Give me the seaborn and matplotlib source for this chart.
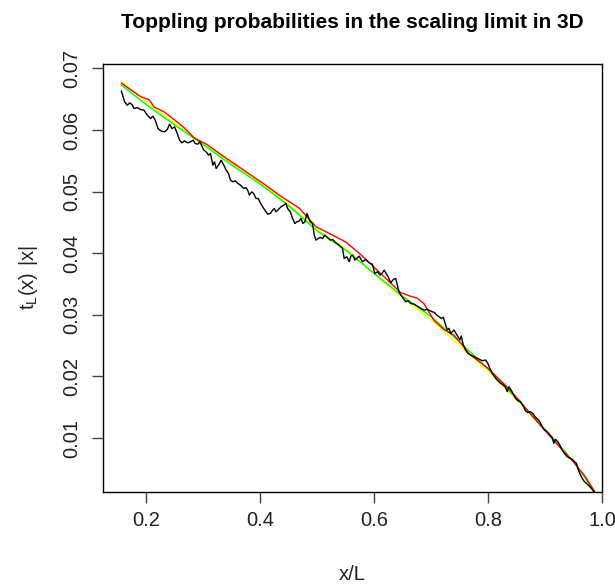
import numpy as np
import pandas as pd
import matplotlib
matplotlib.use("Agg")
import matplotlib.pyplot as plt
import seaborn as sns

# simulated toppling probabilities (noisy, black)
sim_x = [0.1562, 0.1620, 0.1667, 0.1708, 0.1749, 0.1784, 0.1842, 0.1900, 0.1959, 0.2017,
         0.2076, 0.2117, 0.2157, 0.2204, 0.2263, 0.2321, 0.2368, 0.2409, 0.2450, 0.2496,
         0.2543, 0.2584, 0.2624, 0.2671, 0.2729, 0.2776, 0.2823, 0.2858, 0.2905, 0.2940,
         0.2975, 0.3010, 0.3051, 0.3092, 0.3127, 0.3168, 0.3197, 0.3226, 0.3267, 0.3314,
         0.3360, 0.3401, 0.3442, 0.3477, 0.3518, 0.3559, 0.3606, 0.3653, 0.3710, 0.3750,
         0.3780, 0.3809, 0.3850, 0.3885, 0.3926, 0.3966, 0.4001, 0.4042, 0.4083, 0.4130,
         0.4177, 0.4218, 0.4247, 0.4276, 0.4317, 0.4364, 0.4410, 0.4451, 0.4480, 0.4527,
         0.4568, 0.4609, 0.4644, 0.4685, 0.4714, 0.4749, 0.4784, 0.4819, 0.4843, 0.4878,
         0.4918, 0.4948, 0.4977, 0.5018, 0.5053, 0.5094, 0.5134, 0.5181, 0.5228, 0.5269,
         0.5327, 0.5386, 0.5444, 0.5473, 0.5520, 0.5561, 0.5590, 0.5625, 0.5660, 0.5695,
         0.5736, 0.5794, 0.5852, 0.5911, 0.5969, 0.6010, 0.6057, 0.6104, 0.6144, 0.6174,
         0.6209, 0.6244, 0.6290, 0.6337, 0.6378, 0.6407, 0.6436, 0.6466, 0.6512, 0.6553,
         0.6594, 0.6641, 0.6699, 0.6758, 0.6816, 0.6874, 0.6933, 0.6980, 0.7020, 0.7061,
         0.7096, 0.7137, 0.7178, 0.7213, 0.7254, 0.7283, 0.7312, 0.7342, 0.7371, 0.7400,
         0.7435, 0.7470, 0.7505, 0.7528, 0.7564, 0.7604, 0.7645, 0.7692, 0.7750, 0.7808,
         0.7896, 0.7954, 0.7995, 0.8030, 0.8071, 0.8112, 0.8159, 0.8206, 0.8264, 0.8305,
         0.8334, 0.8363, 0.8404, 0.8439, 0.8480, 0.8521, 0.8568, 0.8614, 0.8655, 0.8696,
         0.8743, 0.8790, 0.8830, 0.8871, 0.8906, 0.8947, 0.8988, 0.9035, 0.9082, 0.9122,
         0.9152, 0.9181, 0.9222, 0.9257, 0.9298, 0.9338, 0.9385, 0.9432, 0.9473, 0.9514,
         0.9549, 0.9572, 0.9607, 0.9648, 0.9689, 0.9736, 0.9782, 0.9823, 0.9864]
sim_y = [0.06633, 0.06455, 0.06401, 0.06439, 0.06412, 0.06347, 0.06363, 0.06331, 0.06320, 0.06239,
         0.06185, 0.06223, 0.06158, 0.06023, 0.05980, 0.05969, 0.06007, 0.06093, 0.06023, 0.06050,
         0.05942, 0.05834, 0.05791, 0.05823, 0.05791, 0.05807, 0.05834, 0.05780, 0.05769, 0.05807,
         0.05737, 0.05672, 0.05645, 0.05591, 0.05618, 0.05429, 0.05483, 0.05375, 0.05429, 0.05510,
         0.05429, 0.05348, 0.05294, 0.05186, 0.05159, 0.05175, 0.05132, 0.05105, 0.05049, 0.05065,
         0.05022, 0.04941, 0.04995, 0.04968, 0.04887, 0.04887, 0.04817, 0.04752, 0.04698, 0.04633,
         0.04644, 0.04698, 0.04725, 0.04671, 0.04709, 0.04752, 0.04779, 0.04806, 0.04725, 0.04671,
         0.04563, 0.04482, 0.04509, 0.04525, 0.04563, 0.04482, 0.04509, 0.04644, 0.04590, 0.04509,
         0.04482, 0.04293, 0.04212, 0.04239, 0.04255, 0.04239, 0.04293, 0.04255, 0.04212, 0.04223,
         0.04169, 0.04131, 0.04077, 0.03915, 0.03942, 0.03861, 0.03953, 0.03969, 0.03888, 0.03915,
         0.03953, 0.03860, 0.03898, 0.03844, 0.03822, 0.03671, 0.03698, 0.03644, 0.03682, 0.03725,
         0.03671, 0.03617, 0.03520, 0.03574, 0.03590, 0.03482, 0.03374, 0.03320, 0.03266, 0.03212,
         0.03228, 0.03185, 0.03174, 0.03142, 0.03104, 0.03077, 0.03088, 0.03066, 0.03050, 0.03034,
         0.02996, 0.02969, 0.02942, 0.02958, 0.02834, 0.02753, 0.02780, 0.02699, 0.02726, 0.02753,
         0.02699, 0.02645, 0.02591, 0.02656, 0.02510, 0.02429, 0.02375, 0.02348, 0.02321, 0.02294,
         0.02255, 0.02266, 0.02212, 0.02131, 0.02050, 0.01996, 0.01942, 0.01899, 0.01861, 0.01823,
         0.01753, 0.01834, 0.01780, 0.01715, 0.01645, 0.01607, 0.01591, 0.01521, 0.01445, 0.01413,
         0.01429, 0.01391, 0.01337, 0.01305, 0.01267, 0.01186, 0.01132, 0.01105, 0.01051, 0.01013,
         0.00916, 0.00981, 0.00943, 0.00889, 0.00808, 0.00754, 0.00700, 0.00673, 0.00657, 0.00619,
         0.00592, 0.00511, 0.00430, 0.00349, 0.00295, 0.00257, 0.00214, 0.00171, 0.00117]

# smooth limit curves
lim_x = [0.156, 0.2, 0.25, 0.3, 0.35, 0.4, 0.45, 0.5, 0.55, 0.6,
         0.65, 0.7, 0.75, 0.8, 0.85, 0.9, 0.95, 0.987]
green_y = [0.0673, 0.0641, 0.0608, 0.0576, 0.0543, 0.0512, 0.0477, 0.0436, 0.0405, 0.0367,
           0.0330, 0.0297, 0.0256, 0.0212, 0.0164, 0.0114, 0.0062, 0.0013]
yellow_y = [0.0679, 0.0645, 0.0611, 0.0578, 0.0545, 0.0514, 0.0479, 0.0438, 0.0407, 0.0366,
            0.0327, 0.0292, 0.0250, 0.0208, 0.0162, 0.0113, 0.0062, 0.0013]

red_x = [0.156, 0.190, 0.205, 0.214, 0.230, 0.250, 0.267, 0.284, 0.307, 0.331,
         0.350, 0.380, 0.410, 0.4335, 0.4685, 0.4977, 0.5211, 0.5503, 0.5736, 0.608,
         0.617, 0.6465, 0.664, 0.6757, 0.6874, 0.7049, 0.7224, 0.7399, 0.7574, 0.7662,
         0.80, 0.83, 0.85, 0.88, 0.90, 0.93, 0.95, 0.97, 0.987]
red_y = [0.0676, 0.0654, 0.0649, 0.0637, 0.0630, 0.0616, 0.0603, 0.0587, 0.0576, 0.0560,
         0.0548, 0.0529, 0.0510, 0.0494, 0.0473, 0.0443, 0.0432, 0.0418, 0.0400, 0.0370,
         0.0362, 0.0336, 0.0330, 0.0327, 0.0318, 0.0291, 0.0276, 0.0267, 0.0248, 0.0237,
         0.0213, 0.0186, 0.0166, 0.0133, 0.0112, 0.0081, 0.0061, 0.0038, 0.0013]

sns.set_style("ticks")
plt.rcParams['font.family'] = ['Liberation Sans', 'DejaVu Sans']

fig = plt.figure(figsize=(6.15, 5.85), dpi=100)
ax = fig.add_axes([0.1675, 0.159, 0.8115, 0.7316])

lw = 1.0
sns.lineplot(x=lim_x, y=yellow_y, color='yellow', lw=lw, sort=False, estimator=None, ax=ax)
sns.lineplot(x=lim_x, y=green_y, color='#00ff00', lw=lw, sort=False, estimator=None, ax=ax)
sns.lineplot(x=red_x, y=red_y, color='red', lw=lw, sort=False, estimator=None, ax=ax)
sns.lineplot(x=sim_x, y=sim_y, color='black', lw=lw, sort=False, estimator=None, ax=ax)

ax.set_xlim(0.124, 1.0)
ax.set_ylim(0.00125, 0.0707)
ax.set_xticks([0.2, 0.4, 0.6, 0.8, 1.0])
ax.set_xticklabels(['0.2', '0.4', '0.6', '0.8', '1.0'])
ax.set_yticks([0.01, 0.02, 0.03, 0.04, 0.05, 0.06, 0.07])
ax.set_yticklabels(['0.01', '0.02', '0.03', '0.04', '0.05', '0.06', '0.07'],
                   rotation=90, va='center')
for s in ax.spines.values():
    s.set_visible(True)
    s.set_color('black')
    s.set_linewidth(1.0)
ax.tick_params(axis='both', length=8, width=1.0, color='#444444', labelsize=14.5,
               labelcolor='#222222')
ax.tick_params(axis='x', pad=6)
ax.tick_params(axis='y', pad=8)

ax.set_xlabel('x/L', fontsize=14.5, labelpad=25, color='#222222')
ax.set_ylabel(r'$\mathregular{t_L(x)\ |x|}$', fontsize=14.5, labelpad=16, color='#222222')
ax.set_title('Toppling probabilities in the scaling limit in 3D',
             fontsize=15, fontweight='bold', pad=26, color='black')

fig.savefig('out.png', dpi=100)
